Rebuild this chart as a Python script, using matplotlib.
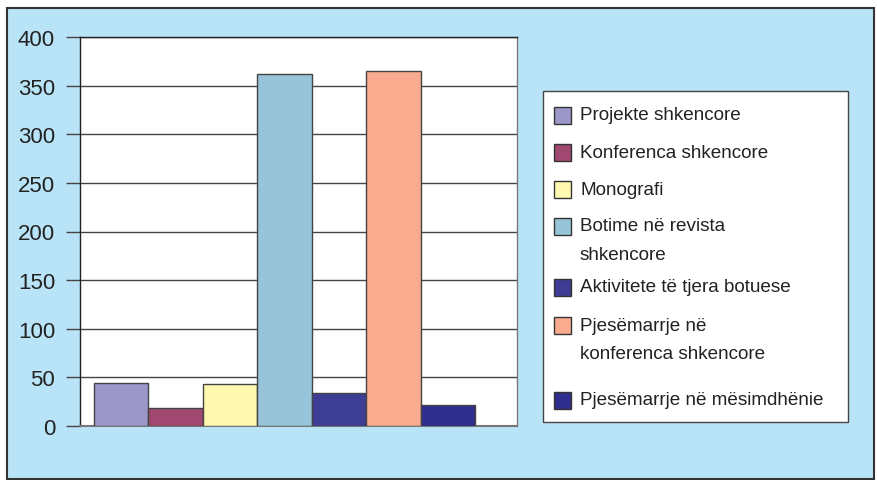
import matplotlib.pyplot as plt
from matplotlib.patches import Rectangle

# te dhenat
categories = ['Projekte shkencore', 'Konferenca shkencore', 'Monografi',
              'Botime në revista\nshkencore', 'Aktivitete të tjera botuese',
              'Pjesëmarrje në\nkonferenca shkencore', 'Pjesëmarrje në mësimdhënie']
values = [44, 19, 43, 362, 34, 365, 22]
colors = ['#9B97C9', '#A04870', '#FFF8B0', '#97C4D8', '#3D3D96', '#F8AB8F', '#2E2E8E']
yticks = [0, 50, 100, 150, 200, 250, 300, 350, 400]

W, H = 877, 481
bg = '#B9E4F8'
font = ['Liberation Sans', 'DejaVu Sans']

fig = plt.figure(figsize=(W / 100, H / 100), dpi=100, facecolor='white')

# fondi blu me kornize
fig.patches.append(Rectangle((7 / W, 1 - 480 / H), 867 / W, 471 / H,
                             transform=fig.transFigure, facecolor=bg,
                             edgecolor='#333333', linewidth=1.5, zorder=-5))

ax = fig.add_axes([80 / W, 1 - 427 / H, 437 / W, 389 / H])
ax.set_zorder(2)
ax.set_facecolor('white')
x = range(len(values))
ax.bar(x, values, width=1.0, color=colors, edgecolor='#444444', linewidth=1, zorder=3)
ax.set_xlim(-0.757, 7.27)
ax.set_ylim(0, 400)
ax.set_yticks(yticks)
ax.set_yticklabels([str(t) for t in yticks], family=font, fontsize=16, color='#222222')
ax.tick_params(axis='y', direction='out', length=10, width=1, color='#444444', pad=8)
ax.set_xticks([])
ax.yaxis.grid(True, color='#444444', linewidth=1)
ax.set_axisbelow(True)
for s in ax.spines.values():
    s.set_color('#222222')
    s.set_linewidth(1)
ax.spines['right'].set_color('#777777')
ax.spines['bottom'].set_color('#777777')
ax.spines['bottom'].set_linewidth(1.5)

# legjenda e vizatuar me dore
lx0, lx1, ly0, ly1 = 543, 848, 92, 423
fig.patches.append(Rectangle((lx0 / W, 1 - ly1 / H), (lx1 - lx0) / W, (ly1 - ly0) / H,
                             transform=fig.transFigure, facecolor='white',
                             edgecolor='#444444', linewidth=1, zorder=1))
rows = [116, 153.5, 190.7, 227, 288, 326.7, 401]
for lab, c, yy in zip(categories, colors, rows):
    fig.patches.append(Rectangle((554 / W, 1 - (yy + 8.5) / H), 17 / W, 17 / H,
                                 transform=fig.transFigure, facecolor=c,
                                 edgecolor='#333333', linewidth=1, zorder=2))
    fig.text(580 / W, 1 - (yy - 9) / H, lab, family=font, fontsize=13.6,
             color='#222222', va='top', ha='left', linespacing=1.9, zorder=3)

plt.savefig('out.png', dpi=100, facecolor='white')
